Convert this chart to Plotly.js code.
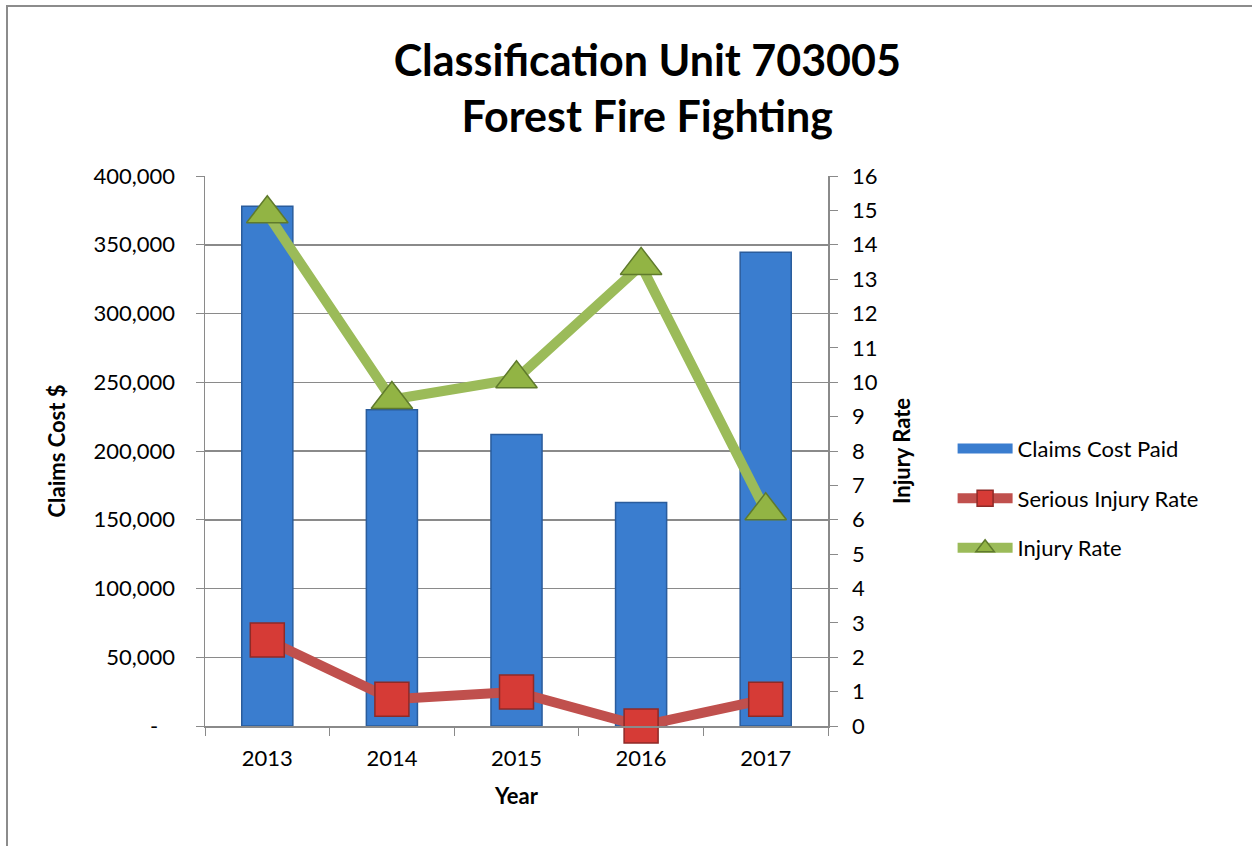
<!DOCTYPE html>
<html>
<head>
<meta charset="utf-8">
<script src="https://cdn.plot.ly/plotly-3.0.1.min.js"></script>
<style>
  html, body { margin: 0; padding: 0; background: #ffffff; }
  #wrap { position: relative; width: 1252px; height: 846px; overflow: hidden; }
  #chart { position: absolute; left: 0; top: 0; width: 1252px; height: 846px; }
  #frame { position: absolute; left: 6px; top: 5px; width: 1300px; height: 900px;
           border-left: 2px solid #8c8c8c; border-top: 2px solid #8c8c8c; pointer-events: none; }
</style>
</head>
<body>
<div id="wrap">
  <div id="chart"></div>
  <div id="frame"></div>
</div>
<script>
// ---- data ----
const years = ["2013", "2014", "2015", "2016", "2017"];
const claimsCostPaid = [378000, 230000, 212000, 162500, 344500];
const seriousInjuryRate = [2.5, 0.78, 0.99, 0.0, 0.78];
const injuryRate = [14.9, 9.5, 10.1, 13.4, 6.26];
const leftTickVals = [0, 50000, 100000, 150000, 200000, 250000, 300000, 350000, 400000];
const leftTickText = ["-\u00a0\u00a0\u00a0", "50,000", "100,000", "150,000", "200,000", "250,000", "300,000", "350,000", "400,000"];
const rightTickVals = [0,1,2,3,4,5,6,7,8,9,10,11,12,13,14,15,16];

const FONT = "Lato, 'Open Sans', sans-serif";
const GRID = "#8a8a8a";
const BLUE = "#3a7dcf";

const traces = [
  {
    type: "bar", name: "Claims Cost Paid", x: years, y: claimsCostPaid,
    marker: { color: BLUE, line: { color: "#2a5c9c", width: 1.5 } },
    showlegend: false, hoverinfo: "x+y"
  },
  {
    // legend entry for the bars (drawn as a wide bar-like swatch)
    type: "scatter", mode: "lines", name: "Claims Cost Paid",
    x: [null], y: [null],
    line: { color: BLUE, width: 12 },
    legendgroup: "a", hoverinfo: "skip"
  },
  {
    type: "scatter", mode: "lines+markers", name: "Serious Injury Rate",
    x: years, y: seriousInjuryRate, yaxis: "y2",
    line: { color: "#c0504d", width: 10 },
    marker: { symbol: "square", size: 34, color: "#d63b36", line: { color: "#8e2a27", width: 1.5 } },
    legendgroup: "b", cliponaxis: false
  },
  {
    type: "scatter", mode: "lines+markers", name: "Injury Rate",
    x: years, y: injuryRate, yaxis: "y2",
    line: { color: "#9bbb59", width: 10 },
    marker: { symbol: "triangle-up", size: 36, color: "#92b444", line: { color: "#5f7a2c", width: 1.5 } },
    legendgroup: "c", cliponaxis: false
  }
];

const layout = {
  width: 1252, height: 846,
  margin: { l: 205, r: 424, t: 176, b: 120 },
  paper_bgcolor: "rgba(0,0,0,0)", plot_bgcolor: "#ffffff",
  font: { family: FONT, size: 22, color: "#000000" },
  title: {
    text: "<b>Classification Unit 703005</b><br><b>Forest Fire Fighting</b>",
    font: { family: FONT, size: 43, color: "#000000" },
    x: 0.517, xanchor: "center", y: 0.91, yanchor: "top"
  },
  bargap: 0.59,
  showlegend: true,
  legend: {
    x: 1.2, xanchor: "left", y: 0.414, yanchor: "middle",
    font: { family: FONT, size: 22, color: "#000000" },
    tracegroupgap: 18, itemwidth: 55, traceorder: "grouped",
    bgcolor: "rgba(0,0,0,0)"
  },
  xaxis: {
    type: "category", tickson: "boundaries", ticks: "outside", ticklen: 8, tickcolor: GRID,
    ticklabelstandoff: 12,
    showline: true, linecolor: GRID, linewidth: 1.5, showgrid: false,
    tickfont: { family: FONT, size: 22 },
    title: { text: "<b>Year</b>", font: { family: FONT, size: 22 }, standoff: 18 }
  },
  yaxis: {
    range: [0, 400000], tickvals: leftTickVals, ticktext: leftTickText,
    ticks: "outside", ticklen: 8, tickcolor: GRID, ticklabelstandoff: 16,
    showline: true, linecolor: GRID, linewidth: 1.5,
    showgrid: true, gridcolor: GRID, gridwidth: 1.5, zeroline: false,
    tickfont: { family: FONT, size: 22 },
    title: { text: "<b>Claims Cost $</b>", font: { family: FONT, size: 22 }, standoff: 22 }
  },
  yaxis2: {
    overlaying: "y", side: "right", range: [0, 16], tickvals: rightTickVals,
    ticks: "outside", ticklen: 8, tickcolor: GRID, ticklabelstandoff: 10,
    showline: true, linecolor: GRID, linewidth: 1.5, showgrid: false, zeroline: false,
    tickfont: { family: FONT, size: 22 },
    title: { text: "<b>Injury Rate</b>", font: { family: FONT, size: 22 }, standoff: 18 }
  }
};

Plotly.newPlot("chart", traces, layout, { displayModeBar: false, staticPlot: true });
</script>
</body>
</html>
